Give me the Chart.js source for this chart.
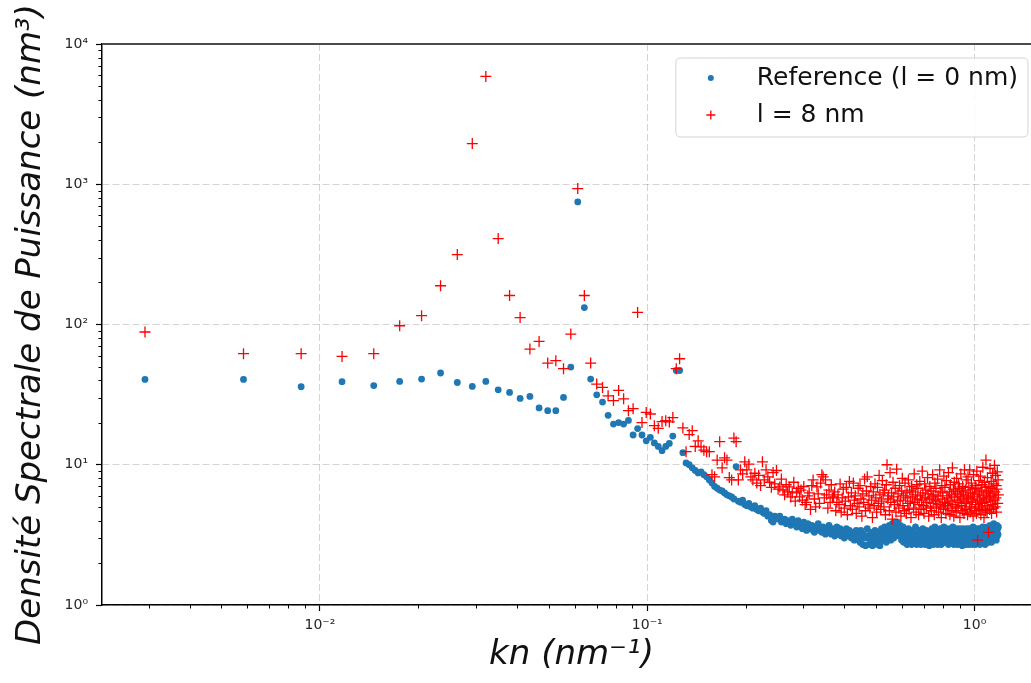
<!DOCTYPE html>
<html><head><meta charset="utf-8">
<script src="https://cdn.jsdelivr.net/npm/chart.js@4.4.1/dist/chart.umd.min.js"></script>
<style>html,body{margin:0;padding:0;overflow:hidden;background:#fff}canvas{display:block}</style>
</head><body>
<canvas id="c" width="1042" height="683" style="width:1042px;height:683px"></canvas>
<script>
// wavenumber step of the spectrum (nm^-1); point n sits at kn = n * dk
const dk = 0.00292;

// Reference (l = 0 nm), n = 1 .. 405
const refPSD = [
 40.6, 40.6, 36.0, 39.1, 36.7, 39.3, 40.8, 45.1, 38.6, 36.2,
 39.3, 34.2, 32.8, 29.7, 30.7, 25.4, 24.3, 24.3, 30.2, 49.7,
 748, 132, 40.8, 31.5, 28.0, 22.5, 19.5, 20.0, 19.5, 20.7,
 16.3, 18.1, 16.3, 14.8, 15.7, 14.3, 13.5, 12.6, 13.5, 14.2,
 16.0, 47, 47, 12.2, 10.3, 10.0, 9.5, 9.1, 8.75,
 8.9, 8.5, 8.2, 7.8, 7.4, 7.0, 6.8, 6.6, 6.5, 6.3,
 6.1, 6.0, 5.9, 5.7, 9.7, 5.5, 5.4, 5.6, 5.2, 5.1,
 5.3, 5.0, 4.9, 5.1, 4.8, 4.7, 4.9, 4.6, 4.5, 4.7,
 4.3, 4.4, 4.0, 3.9, 4.3, 4.2, 4.1, 4.3, 3.9, 4.0,
 4.1, 3.8, 4.0, 3.9, 3.7, 4.1, 3.9, 3.8, 3.6, 4.0,
 3.8,
 3.7, 3.5, 3.9, 3.6, 3.4, 3.8, 3.6, 3.5, 3.7, 3.4,
 3.3, 3.6, 3.5, 3.8, 3.4, 3.5, 3.3, 3.6, 3.4, 3.2,
 3.5, 3.3, 3.7, 3.4, 3.2, 3.5, 3.3, 3.1, 3.4, 3.6,
 3.2, 3.3, 3.5, 3.1, 3.4, 3.2, 3.0, 3.3, 3.5, 3.2,
 3.1, 3.4, 3.2, 3.0, 3.3, 3.1, 2.9, 3.2, 3.4, 3.0,
 3.2, 3.1, 2.8, 3.4, 3.0, 2.7, 3.2, 3.1, 2.65, 3.0,
 3.5, 3.1, 2.7, 3.0, 3.3, 2.9, 2.65, 3.1, 3.0, 3.4,
 2.8, 3.1, 2.7, 3.3, 3.0, 2.65, 3.1, 3.5, 2.9, 3.0,
 3.2, 3.6, 3.1, 2.8, 3.4, 3.0, 3.2, 3.7, 3.1, 2.9,
 3.5, 3.8, 3.2, 3.0, 3.9, 3.3, 3.1, 3.6, 3.9, 3.2,
 3.5, 3.1, 3.7, 3.3, 2.9, 3.2, 3.6, 2.8, 3.1, 3.4,
 3.0, 3.2, 2.7, 3.1, 3.5, 3.0, 2.8, 3.3, 3.1, 2.7,
 3.4, 3.0, 3.2, 2.8, 3.1, 3.6, 3.0, 2.7, 3.2, 3.1,
 2.8, 3.4, 3.0, 3.3, 2.7, 3.1, 3.0, 3.5, 2.9, 3.2,
 3.0, 2.7, 3.1, 3.4, 3.0, 2.8, 3.3, 3.1, 2.65, 3.0,
 3.3, 3.0, 2.8, 3.5, 3.1, 2.7, 3.0, 3.2, 3.6, 3.0,
 2.8, 3.1, 3.4, 2.7, 3.0, 3.3, 3.1, 2.8, 3.5, 3.0,
 2.7, 3.1, 3.3, 3.0, 2.8, 3.6, 3.1, 2.8, 3.0, 3.3,
 3.5, 2.8, 3.1, 3.0, 2.7, 3.3, 3.1, 3.5, 2.8, 3.0,
 3.2, 2.8, 3.1, 3.6, 3.0, 2.7, 3.1, 3.3, 3.0, 2.8,
 3.1, 3.5, 3.0, 2.7, 3.3, 3.1, 2.8, 3.0, 3.5, 3.1,
 2.8, 3.3, 3.0, 2.65, 3.1, 3.5, 3.0, 2.8, 3.3, 3.1,
 3.0, 2.7, 3.3, 3.5, 2.8, 3.1, 3.0, 3.3, 2.7, 3.1,
 3.5, 3.0, 2.8, 3.3, 3.1, 3.0, 2.7, 3.3, 3.6, 3.0,
 2.8, 3.1, 3.3, 3.0, 2.7, 3.5, 3.1, 2.8, 3.0, 3.3,
 3.1, 2.8, 3.5, 3.0, 3.3, 2.7, 3.1, 3.5, 3.0, 2.8,
 3.3, 3.1, 3.6, 3.0, 2.8, 3.3, 3.1, 3.0, 2.7, 3.5,
 3.1, 3.3, 2.8, 3.0, 3.6, 3.1, 3.3, 2.8, 3.5, 3.0,
 3.2, 3.7, 3.1, 2.9, 3.4, 2.8, 3.2, 3.6, 3.1, 3.0,
 3.4, 3.8, 3.2, 3.0, 3.5, 3.1, 3.6, 3.2, 2.9, 3.4,
 3.7, 3.1, 3.5, 3.2, 3.6
];

// l = 8 nm, n = 1 .. 405
const l8PSD = [
 88.4, 61.9, 61.9, 59.2, 61.9, 98, 115.6, 189, 315, 1950,
 5870, 410, 161, 112, 66.8, 75.8, 53.1, 55.2, 48.4, 85.5,
 931, 161, 53.1, 37.6, 35.6, 31.0, 28.7, 33.9, 29.5, 24.3,
 25.1, 122, 20.0, 23.6, 23.0, 19.0, 18.2, 20.3, 20.6, 20.2,
 21.7, 48.4, 57, 18.3, 12.4, 16.4, 17.5, 13.5, 14.8,
 13.4, 12.7, 12.4, 12.4, 8.5, 8.2, 10.8, 14.6, 9.5, 11.2,
 10.8, 8.1, 7.8, 15.5, 14.6, 7.8, 9.2, 8.6, 10.5, 9.2,
 10.1, 8.2, 7.8, 8.7, 7.4, 8.4, 7.1, 10.5, 7.8, 9.2,
 8.2, 7.5, 6.9, 8.8, 7.3, 9.1, 6.7, 6.95, 7.9, 6.6,
 6.1, 7.2, 6.4, 6.95, 5.9, 6.3, 7.5, 5.5, 6.4, 6.8,
 5.9, 6.6, 5.6, 7.0, 5.2, 5.4, 6.0, 6.3, 4.8, 7.1,
 7.8, 5.7, 5.0, 6.95, 6.2, 5.3, 7.4, 8.5, 8.2, 5.8,
 7.8, 6.1, 4.9, 6.6, 5.4, 7.2, 5.8, 5.9, 6.4, 4.7,
 5.4,
 6.1, 5.2, 7.3, 4.6, 5.8, 6.7, 4.9, 5.5, 6.9, 4.4,
 5.9, 7.6, 5.1, 6.3, 4.8, 7.4, 5.6, 6.0, 4.5, 5.3,
 6.8, 5.0, 7.1, 5.7, 4.3, 6.2, 5.4, 7.9, 4.7, 6.5,
 8.2, 5.2, 6.0, 4.9, 7.0, 5.6, 4.2, 6.4, 5.1, 7.3,
 5.8, 4.6, 6.9, 5.3, 8.4, 6.1, 4.8, 5.5, 7.7, 6.3,
 5.0, 6.6, 4.4, 7.2, 10.0, 5.7, 6.0, 4.7, 8.8, 5.4,
 6.3, 4.1, 7.5, 5.9, 5.2, 6.8, 4.6, 9.3, 5.5, 6.2,
 4.9, 7.1, 5.6, 4.3, 6.5, 8.0, 5.1, 6.0, 4.7, 7.4,
 5.8, 4.5, 6.3, 5.3, 7.8, 4.8, 6.6, 5.5, 4.2, 7.0,
 5.9, 6.4, 4.9, 8.6, 5.4, 6.1, 4.6, 7.2, 5.7, 6.8,
 4.4, 5.2, 7.6, 6.0, 4.8, 5.6, 9.0, 6.3, 5.1, 4.5,
 7.3, 5.8, 6.6, 4.9, 5.4, 8.1, 6.2, 4.3, 5.7, 7.0,
 5.0, 6.5, 4.7, 5.9, 8.5, 5.3, 6.1, 4.4, 7.4, 5.6,
 6.8, 4.9, 5.5, 7.9, 6.0, 4.6, 5.2, 9.2, 6.4, 5.0,
 4.2, 7.1, 5.7, 6.3, 4.8, 8.3, 5.4, 6.9, 5.1, 4.5,
 7.7, 6.0, 5.3, 4.9, 8.8, 5.8, 6.4, 4.4, 7.2, 5.5,
 6.1, 4.7, 9.5, 5.2, 6.7, 4.3, 7.5, 5.9, 5.0, 6.5,
 4.6, 8.0, 5.6, 6.2, 4.9, 7.3, 5.4, 6.8, 4.2, 5.9,
 8.6, 5.1, 6.4, 4.7, 7.0, 5.7, 6.1, 4.5, 9.2, 5.3,
 6.6, 4.8, 7.8, 5.5, 6.0, 4.4, 8.2, 5.8, 6.9, 5.0,
 9.2, 4.6, 6.3, 5.4, 7.4, 4.9, 6.7, 5.7, 4.3, 8.5,
 5.9, 6.2, 4.7, 7.1, 5.2, 6.8, 4.5, 9.0, 5.6, 2.9,
 6.4, 5.0, 7.7, 4.8, 6.1, 5.5, 8.3, 4.4, 6.6, 5.3,
 7.2, 4.9, 9.6, 5.8, 6.0, 4.2, 7.5, 5.4, 6.9, 4.7,
 10.8, 5.7, 6.3, 4.6, 8.1, 5.1, 6.5, 3.3, 7.0, 5.9,
 4.8, 9.4, 6.2, 5.5, 7.6, 4.5, 6.8, 5.2, 8.7, 6.0,
 4.9, 7.3, 5.6, 9.9, 6.4, 5.0, 8.4, 5.8, 7.1, 4.6,
 6.7, 8.9, 5.3, 7.8, 6.1
];

const seriesLabels = ['Reference (l = 0 nm)', 'l = 8 nm'];
const xTicks = [0.01, 0.1, 1];
const xTickLabels = ['10\u207B\u00B2', '10\u207B\u00B9', '10\u2070'];
const yTicks = [1, 10, 100, 1000, 10000];
const yTickLabels = ['10\u2070', '10\u00B9', '10\u00B2', '10\u00B3', '10\u2074'];
const xTitle = 'kn (nm\u207B\u00B9)';
const yTitle = 'Densit\u00E9 Spectrale de Puissance (nm\u00B3)';
const xRange = [0.002158, 1.596];
const yRange = [1, 10000];

const toPoints = arr => arr.map((v, i) => ({x: (i + 1) * dk, y: v}));

const FONT = '"DejaVu Sans", "Liberation Sans", sans-serif';

const decor = {
  id: 'decor',
  afterDraw(chart) {
    const {ctx, chartArea: a, scales: {x, y}} = chart;
    ctx.save();
    ctx.strokeStyle = '#000';
    ctx.lineWidth = 1;
    ctx.beginPath();
    for (let e = -4; e <= 1; e++) for (let m = 2; m <= 9; m++) {
      const v = m * Math.pow(10, e);
      if (v > x.min && v < x.max) {
        const px = Math.round(x.getPixelForValue(v)) + 0.5;
        ctx.moveTo(px, a.bottom); ctx.lineTo(px, a.bottom + 3.5);
      }
    }
    for (let e = -1; e <= 5; e++) for (let m = 2; m <= 9; m++) {
      const v = m * Math.pow(10, e);
      if (v > y.min && v < y.max) {
        const py = Math.round(y.getPixelForValue(v)) + 0.5;
        ctx.moveTo(a.left, py); ctx.lineTo(a.left - 3.5, py);
      }
    }
    ctx.stroke();
    // top spine
    ctx.strokeStyle = '#4d4d4d';
    ctx.lineWidth = 2;
    ctx.beginPath(); ctx.moveTo(a.left, a.top); ctx.lineTo(a.right, a.top); ctx.stroke();

    // legend
    const ds = chart.data.datasets;
    ctx.font = '25px ' + FONT;
    const tw = Math.max(...ds.map(d => ctx.measureText(d.label).width));
    const right = a.right - 13, top = a.top + 14, h = 79;
    const left = right - (tw + 91);
    const r = 5;
    ctx.beginPath();
    ctx.moveTo(left + r, top);
    ctx.lineTo(right - r, top); ctx.quadraticCurveTo(right, top, right, top + r);
    ctx.lineTo(right, top + h - r); ctx.quadraticCurveTo(right, top + h, right - r, top + h);
    ctx.lineTo(left + r, top + h); ctx.quadraticCurveTo(left, top + h, left, top + h - r);
    ctx.lineTo(left, top + r); ctx.quadraticCurveTo(left, top, left + r, top);
    ctx.closePath();
    ctx.fillStyle = 'rgba(255,255,255,0.85)';
    ctx.fill();
    ctx.strokeStyle = '#d3d3d3';
    ctx.lineWidth = 1;
    ctx.stroke();
    ds.forEach((d, i) => {
      const cy = top + 20 + i * 37;
      const mx = left + 35;
      if (d.pointStyle === 'circle') {
        ctx.fillStyle = d.backgroundColor;
        ctx.beginPath(); ctx.arc(mx, cy, 3, 0, Math.PI * 2); ctx.fill();
      } else {
        ctx.strokeStyle = d.borderColor; ctx.lineWidth = 1.3;
        ctx.beginPath();
        ctx.moveTo(mx - 4.5, cy); ctx.lineTo(mx + 4.5, cy);
        ctx.moveTo(mx, cy - 4.5); ctx.lineTo(mx, cy + 4.5);
        ctx.stroke();
      }
      ctx.fillStyle = '#111';
      ctx.textBaseline = 'middle';
      ctx.textAlign = 'left';
      ctx.fillText(d.label, left + 81, cy);
    });
    ctx.restore();
  }
};

const gridCommon = {
  color: 'rgba(0,0,0,0.17)',
  lineWidth: 1,
  drawTicks: true,
  tickLength: 6,
  tickColor: '#000',
  tickWidth: 1.2
};

new Chart(document.getElementById('c'), {
  type: 'scatter',
  data: {
    datasets: [
      {
        label: seriesLabels[0],
        data: toPoints(refPSD),
        pointStyle: 'circle',
        pointRadius: 3.4,
        pointHoverRadius: 3.4,
        backgroundColor: '#1f77b4',
        borderColor: '#1f77b4',
        borderWidth: 0,
        order: 1
      },
      {
        label: seriesLabels[1],
        data: toPoints(l8PSD),
        pointStyle: 'cross',
        pointRadius: 5.5,
        pointHoverRadius: 5.5,
        backgroundColor: '#ff0000',
        borderColor: '#ff0000',
        borderWidth: 1.3,
        order: 0
      }
    ]
  },
  options: {
    responsive: false,
    animation: false,
    devicePixelRatio: 1,
    layout: {autoPadding: false, padding: {top: 44, right: 1, left: 0, bottom: 0}},
    plugins: {legend: {display: false}, tooltip: {enabled: false}},
    scales: {
      x: {
        type: 'logarithmic',
        position: 'bottom',
        min: xRange[0],
        max: xRange[1],
        afterBuildTicks: s => { s.ticks = xTicks.map(v => ({value: v, major: true})); },
        afterFit: s => { s.height = 78; s.paddingLeft = 0; s.paddingRight = 0; },
        ticks: {
          autoSkip: false, maxRotation: 0, minRotation: 0, padding: 6,
          color: '#262626',
          font: {family: FONT, size: 14},
          callback: v => xTickLabels[xTicks.indexOf(v)]
        },
        grid: gridCommon,
        border: {display: true, color: '#000', width: 1.5, dash: [7, 3]},
        title: {
          display: true, text: xTitle, color: '#111',
          font: {family: FONT, size: 34, style: 'italic', lineHeight: 1.2},
          padding: {top: 0, bottom: 7}
        }
      },
      y: {
        type: 'logarithmic',
        position: 'left',
        min: yRange[0],
        max: yRange[1],
        afterBuildTicks: s => { s.ticks = yTicks.map(v => ({value: v, major: true})); },
        afterFit: s => { s.width = 102; s.paddingLeft = 0; s.paddingRight = 0; s.paddingTop = 0; s.paddingBottom = 0; },
        ticks: {
          autoSkip: false, padding: 8,
          color: '#262626',
          font: {family: FONT, size: 14},
          callback: v => yTickLabels[yTicks.indexOf(v)]
        },
        grid: gridCommon,
        border: {display: true, color: '#000', width: 1.5, dash: [7, 3]},
        title: {
          display: true, text: yTitle, color: '#111',
          font: {family: FONT, size: 34, style: 'italic', lineHeight: 1.2},
          padding: {top: 11, bottom: 0}
        }
      }
    }
  },
  plugins: [decor]
});
</script>
</body></html>
